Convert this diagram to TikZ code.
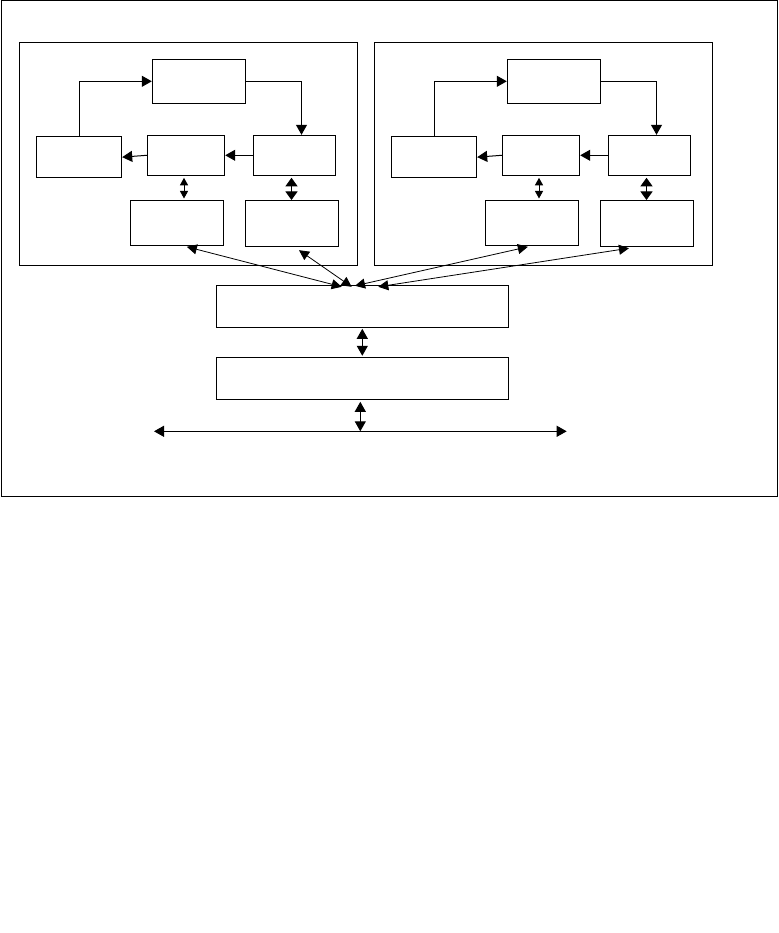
\documentclass[tikz,border=0pt]{standalone}
\usetikzlibrary{arrows.meta,fit,calc}
\begin{document}
\begin{tikzpicture}[x=1pt,y=-1pt,line width=1pt,
  box/.style={draw=black,line width=1pt,inner sep=0pt,fill=none},
  arr/.style={-{Triangle[length=10pt,width=11pt]}},
  darr/.style={{Triangle[length=10pt,width=11pt]}-{Triangle[length=10pt,width=11pt]}},
  mdarr/.style={{Triangle[length=8.5pt,width=12pt]}-{Triangle[length=8.5pt,width=12pt]}},
  sdarr/.style={{Triangle[length=7.5pt,width=8pt]}-{Triangle[length=7.5pt,width=8pt]}},
  diag/.style={line width=0.8pt,{Triangle[length=10pt,width=10pt]}-{Triangle[length=10pt,width=10pt]}}]
\useasboundingbox (0,0) rectangle (778,933);
\node[box,fit={(1,1) (777,496)}] (frame) {};
% panels
\foreach \s/\p in {0/1,355/2}{
  \node[box,fit={(19.3+\s,42.3) (357.7+\s,265.3)}] (P\p) {};
  \node[box,fit={(152.3+\s,59.3) (245.7+\s,103.3)}] (T\p) {};
  \node[box,fit={(36.3+\s,137) (121.7+\s,177.3)}] (L\p) {};
  \node[box,fit={(147.3+\s,135.3) (224.7+\s,175.3)}] (M\p) {};
  \node[box,fit={(253.3+\s,135.3) (335.7+\s,175.3)}] (R\p) {};
  \node[box,fit={(130+\s,201) (223.7+\s,245.3)}] (BL\p) {};
  \node[box,fit={(245.3+\s,201) (338.7+\s,246.7)}] (BR\p) {};
  \draw[arr] (L\p.north) |- (T\p.west);
  \draw[arr] (T\p.east) -| ([xshift=7pt]R\p.north);
  \draw[arr] (R\p.west) -- (M\p.east);
  \draw[arr] (M\p.west) -- (L\p.east);
  \draw[sdarr,shorten <=2pt,shorten >=2pt] ([xshift=-2pt]M\p.south) -- ([xshift=-2pt]M\p.south |- BL\p.north);
  \draw[mdarr,shorten <=2pt,shorten >=0.5pt] ([xshift=-3pt]R\p.south) -- ([xshift=-3pt]R\p.south |- BR\p.north);
}
\node[box,fit={(216.3,285.3) (508.3,327.3)}] (A) {};
\node[box,fit={(216.3,357.3) (508.3,399.3)}] (B) {};
\coordinate (HL) at (154,431.3);
\coordinate (HR) at (566.7,431.3);
\coordinate (HM) at (360.3,431.3);
\draw[darr] (HL) -- (HR);
\draw[darr,shorten <=2pt] ([xshift=-2pt]B.south) -- (HM);
\draw[darr,shorten <=1pt,shorten >=1pt] (A.south) -- (B.north);
% diagonals
\draw[diag] ([xshift=10pt,yshift=-1pt]BL1.south) -- ([xshift=-20.6pt,yshift=-2pt]A.north);
\draw[diag] ([xshift=7pt,yshift=-3pt]BR1.south) -- ([xshift=-10.6pt,yshift=-2pt]A.north);
\draw[diag] ([xshift=-4pt,yshift=-1pt]BL2.south) -- ([xshift=-7.3pt,yshift=-1pt]A.north);
\draw[diag] ([xshift=-18pt,yshift=-1pt]BR2.south) -- ([xshift=16pt,yshift=-2pt]A.north);
\end{tikzpicture}
\end{document}
